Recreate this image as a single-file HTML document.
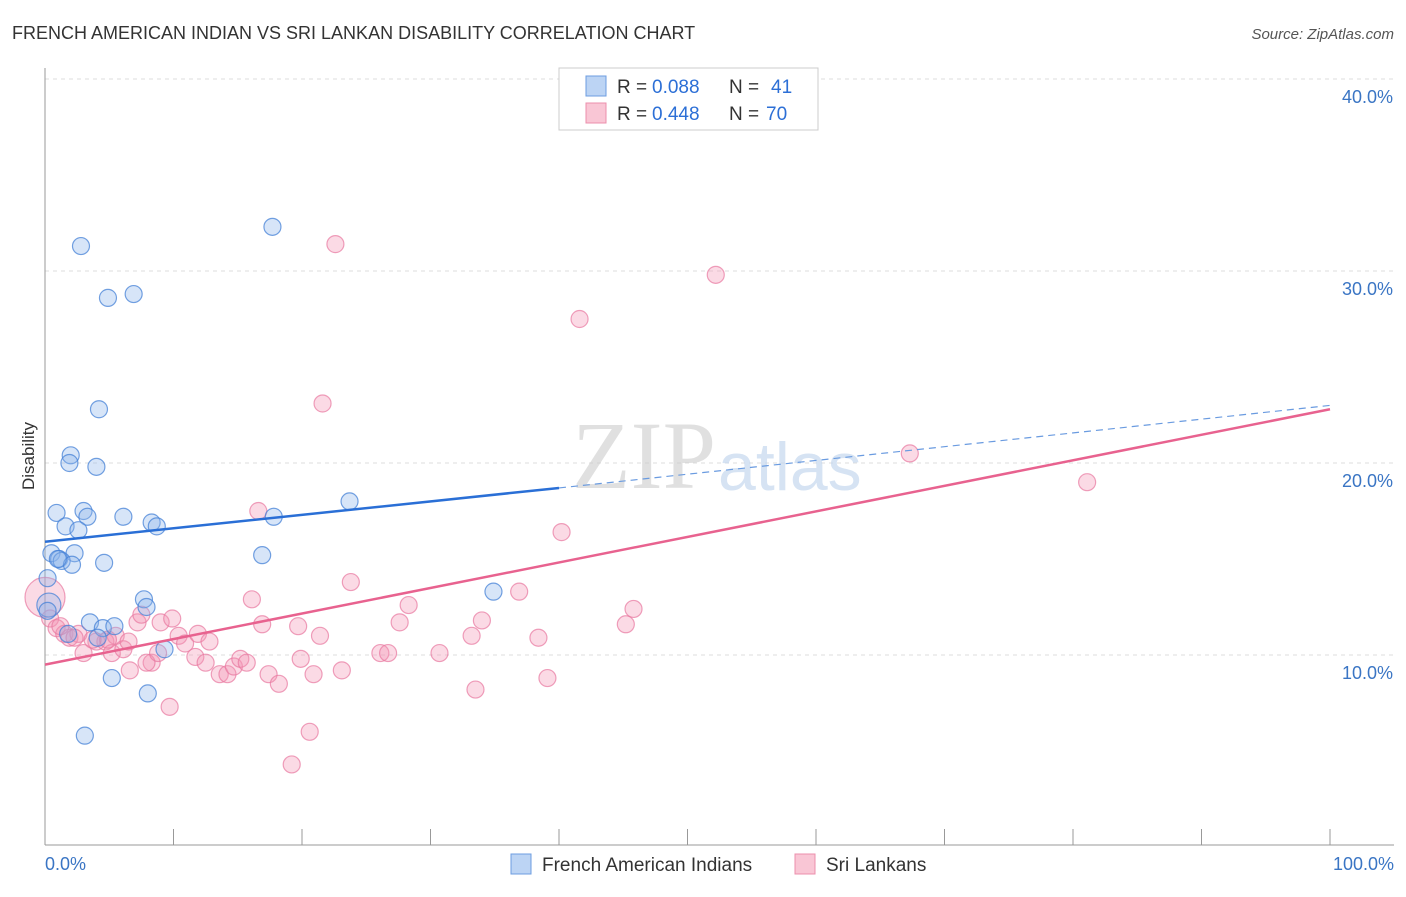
<!DOCTYPE html>
<html><head><meta charset="utf-8"><style>
body{margin:0;background:#fff;font-family:"Liberation Sans",sans-serif}
svg text{font-family:"Liberation Sans",sans-serif}
</style></head><body>
<svg id="chart" width="1406" height="892" viewBox="0 0 1406 892">
<text x="12" y="39" font-size="18" fill="#333">FRENCH AMERICAN INDIAN VS SRI LANKAN DISABILITY CORRELATION CHART</text>
<text x="1394" y="39" font-size="15" fill="#555" font-style="italic" text-anchor="end">Source: ZipAtlas.com</text>
<g id="grid"></g>
<text x="716" y="488" font-size="96" fill="#ccc" opacity="0.6" text-anchor="end" style="font-family:'Liberation Serif',serif">ZIP</text>
<text x="718" y="490" font-size="68" fill="#c5d8ef" opacity="0.7">atlas</text>
<g id="marks"></g>
<text x="34" y="456" font-size="17" fill="#333" text-anchor="middle" transform="rotate(-90 34 456)">Disability</text>
<text x="45" y="870" font-size="18" fill="#3a75c4">0.0%</text>
<text x="1394" y="870" font-size="18" fill="#3a75c4" text-anchor="end">100.0%</text>
<g>
<rect x="559" y="68" width="259" height="62" fill="#fff" stroke="#ccc"/>
<rect x="586" y="76" width="20" height="20" fill="#bcd4f4" stroke="#6d9de0"/>
<rect x="586" y="103" width="20" height="20" fill="#f9c6d5" stroke="#ec8fac"/>
<text x="617" y="93" font-size="19" fill="#333">R =</text>
<text x="652" y="93" font-size="19" fill="#2c6fd6">0.088</text>
<text x="729" y="93" font-size="19" fill="#333">N =</text>
<text x="771" y="93" font-size="19" fill="#2c6fd6">41</text>
<text x="617" y="120" font-size="19" fill="#333">R =</text>
<text x="652" y="120" font-size="19" fill="#2c6fd6">0.448</text>
<text x="729" y="120" font-size="19" fill="#333">N =</text>
<text x="766" y="120" font-size="19" fill="#2c6fd6">70</text>
</g>
<g>
<rect x="511" y="854" width="20" height="20" fill="#bcd4f4" stroke="#6d9de0"/>
<text x="542" y="871" font-size="19" fill="#333">French American Indians</text>
<rect x="795" y="854" width="20" height="20" fill="#f9c6d5" stroke="#ec8fac"/>
<text x="826" y="871" font-size="19" fill="#333">Sri Lankans</text>
</g>
</svg>
<script>
const yTicks=[10,20,30,40];
const yTickLabels=["10.0%","20.0%","30.0%","40.0%"];
const blueX=[2.8,17.7,4.9,6.9,4.2,2.0,1.9,4.0,23.7,0.9,3.0,3.3,6.1,8.3,8.7,1.6,2.6,17.8,0.5,2.3,1.1,1.3,2.1,4.6,16.9,0.2,34.9,7.7,7.9,0.3,3.5,4.5,5.4,1.8,4.1,9.3,5.2,8.0,3.1,0.2,1.0];
const blueY=[31.3,32.3,28.6,28.8,22.8,20.4,20.0,19.8,18.0,17.4,17.5,17.2,17.2,16.9,16.7,16.7,16.5,17.2,15.3,15.3,15.0,14.9,14.7,14.8,15.2,14.0,13.3,12.9,12.5,12.6,11.7,11.4,11.5,11.1,10.9,10.3,8.8,8.0,5.8,12.3,15.0];
const blueR=[8.5,8.5,8.5,8.5,8.5,8.5,8.5,8.5,8.5,8.5,8.5,8.5,8.5,8.5,8.5,8.5,8.5,8.5,8.5,8.5,8.5,8.5,8.5,8.5,8.5,8.5,8.5,8.5,8.5,12,8.5,8.5,8.5,8.5,8.5,8.5,8.5,8.5,8.5,8.5,8.5];
const pinkX=[22.6,52.2,41.6,21.6,67.3,81.1,40.2,16.6,23.8,36.9,16.1,28.3,45.8,0,0.4,0.9,1.5,1.9,2.6,3.0,4.0,4.7,5.2,5.5,6.1,6.5,7.2,7.5,9.0,9.9,10.4,10.9,11.7,11.9,12.5,12.8,13.6,14.2,14.7,15.2,15.7,8.3,7.9,8.8,6.6,16.9,17.4,18.2,19.7,19.9,20.9,21.4,23.1,26.1,26.7,27.6,30.7,33.2,33.5,34.0,38.4,39.1,45.2,20.6,19.2,9.7,4.9,3.7,2.3,1.2];
const pinkY=[31.4,29.8,27.5,23.1,20.5,19.0,16.4,17.5,13.8,13.3,12.9,12.6,12.4,13.0,11.9,11.4,11.1,10.9,11.1,10.1,10.7,10.7,10.1,11.0,10.3,10.7,11.7,12.1,11.7,11.9,11.0,10.6,9.9,11.1,9.6,10.7,9.0,9.0,9.4,9.8,9.6,9.6,9.6,10.1,9.2,11.6,9.0,8.5,11.5,9.8,9.0,11.0,9.2,10.1,10.1,11.7,10.1,11.0,8.2,11.8,10.9,8.8,11.6,6.0,4.3,7.3,10.8,10.8,10.9,11.5];
const pinkR=pinkX.map((v,i)=>i===13?20:8.5);
const blueLine=[15.9,18.7,23.0];
const pinkLine=[9.5,22.8];
const X0=45,X1=1330,Y0=847,PX=19.2;
const xs=v=>X0+(X1-X0)*v/100, ys=v=>Y0-v*PX;
const NS="http://www.w3.org/2000/svg";
const gridG=document.getElementById('grid'), marksG=document.getElementById('marks'), svgEl=document.getElementById('chart');
function mk(p,tag,a){const e=document.createElementNS(NS,tag);for(const k in a)e.setAttribute(k,a[k]);p.appendChild(e);return e;}
yTicks.forEach((t,i)=>{
 const l=mk(gridG,'line',{x1:45,x2:1394,y1:ys(t),y2:ys(t),stroke:'#ddd','stroke-dasharray':'4 4'});
 
 
 const tx=mk(svgEl,'text',{x:1393,y:ys(t)+24,'font-size':18,fill:'#3a75c4','text-anchor':'end'});
 tx.textContent=yTickLabels[i];
 
 
});
const ax=mk(gridG,'line',{x1:45,x2:45,y1:68,y2:845,stroke:'#999'});


const bx=mk(gridG,'line',{x1:45,x2:1394,y1:845,y2:845,stroke:'#999'});


for(let i=1;i<=10;i++){const t=mk(gridG,'line',{x1:xs(i*10),x2:xs(i*10),y1:829,y2:845,stroke:'#999'});
 
 }
pinkX.forEach((v,i)=>{const c=mk(marksG,'circle',{cx:xs(v),cy:ys(pinkY[i]),r:pinkR[i],fill:'rgba(244,150,180,0.35)',stroke:'rgba(232,120,160,0.7)','stroke-width':1.2});
 
 });
blueX.forEach((v,i)=>{const c=mk(marksG,'circle',{cx:xs(v),cy:ys(blueY[i]),r:blueR[i],fill:'rgba(140,180,235,0.35)',stroke:'rgba(70,130,215,0.75)','stroke-width':1.2});
 
 });
const b1=mk(marksG,'line',{x1:xs(0),y1:ys(blueLine[0]),x2:xs(40),y2:ys(blueLine[1]),stroke:'#2a6fd6','stroke-width':2.5});


const b2=mk(marksG,'line',{x1:xs(40),y1:ys(blueLine[1]),x2:xs(100),y2:ys(blueLine[2]),stroke:'#6a9be0','stroke-width':1.2,'stroke-dasharray':'7 5'});


const p1=mk(marksG,'line',{x1:xs(0),y1:ys(pinkLine[0]),x2:xs(100),y2:ys(pinkLine[1]),stroke:'#e8628f','stroke-width':2.5});


</script>
</body></html>
